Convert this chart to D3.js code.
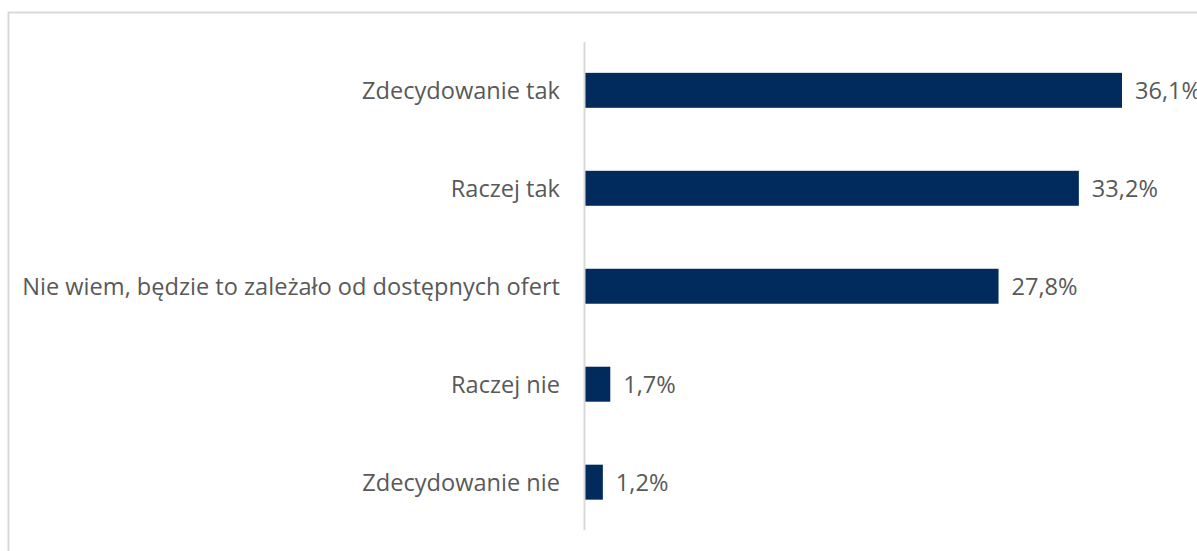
<!DOCTYPE html>
<html>
<head>
<meta charset="utf-8">
<script src="https://cdn.jsdelivr.net/npm/d3@7"></script>
<style>
  body { margin: 0; background: #fff; overflow: hidden; }
  svg text { font-family: "Open Sans", sans-serif; fill: #595959; }
</style>
</head>
<body>
<script>
var categories = ["Zdecydowanie tak", "Raczej tak", "Nie wiem, będzie to zależało od dostępnych ofert", "Raczej nie", "Zdecydowanie nie"];
var values = [36.1, 33.2, 27.8, 1.7, 1.2];
var valueLabels = ["36,1%", "33,2%", "27,8%", "1,7%", "1,2%"];

var width = 1197, height = 551;

var svg = d3.select("body").append("svg")
    .attr("width", width)
    .attr("height", height);

// chart frame (runs off right/bottom edge like the original)
svg.append("rect")
    .attr("x", 8.5).attr("y", 12.5)
    .attr("width", 1200).attr("height", 560)
    .attr("fill", "none")
    .attr("stroke", "#d9d9d9")
    .attr("stroke-width", 2);

var x = d3.scaleLinear().domain([0, 36.1]).range([585, 1122]);
var y = d3.scaleBand().domain(categories).range([41.5, 531]).paddingInner(0.643).paddingOuter(0.32);

var data = categories.map(function(c, i) { return {cat: c, value: values[i], label: valueLabels[i]}; });

svg.selectAll("rect.bar")
    .data(data)
    .join("rect")
    .attr("class", "bar")
    .attr("x", x(0))
    .attr("y", d => y(d.cat))
    .attr("width", d => x(d.value) - x(0))
    .attr("height", y.bandwidth())
    .attr("fill", "#002b5c");

// axis line
svg.append("line")
    .attr("x1", 584.5).attr("x2", 584.5)
    .attr("y1", 42).attr("y2", 530)
    .attr("stroke", "#d9d9d9")
    .attr("stroke-width", 2);

// pick a font size so the longest label spans like the original (22 -> 560)
var probe = svg.append("text").style("font-size", "20px").text(categories[2]);
var fs = 20 * 538 / probe.node().getComputedTextLength();
probe.remove();

svg.selectAll("text.cat")
    .data(data)
    .join("text")
    .attr("class", "cat")
    .attr("x", 560)
    .attr("y", d => y(d.cat) + y.bandwidth() / 2)
    .attr("dy", "0.36em")
    .attr("text-anchor", "end")
    .style("font-size", fs + "px")
    .text(d => d.cat);

svg.selectAll("text.val")
    .data(data)
    .join("text")
    .attr("class", "val")
    .attr("x", d => x(d.value) + 13)
    .attr("y", d => y(d.cat) + y.bandwidth() / 2)
    .attr("dy", "0.36em")
    .style("font-size", fs + "px")
    .text(d => d.label);
</script>
</body>
</html>
